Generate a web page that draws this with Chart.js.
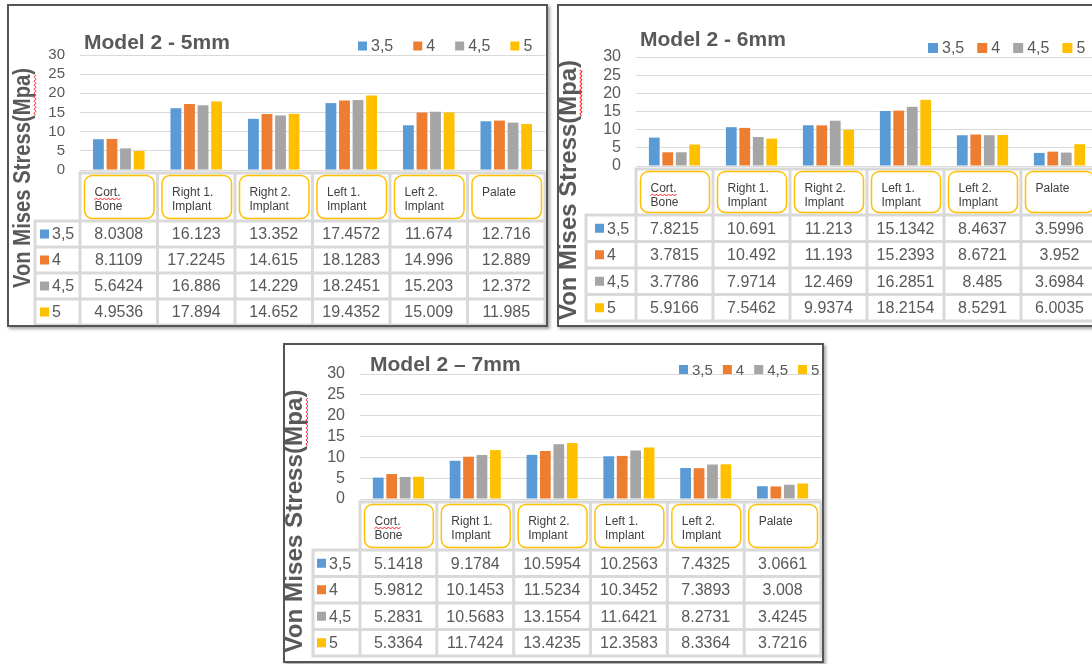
<!DOCTYPE html>
<html>
<head>
<meta charset="utf-8">
<title>Model 2 – Von Mises Stress</title>
<script src="https://cdn.jsdelivr.net/npm/chart.js@4.4.1/dist/chart.umd.min.js"></script>
<style>
  html, body { margin: 0; padding: 0; background: #fff; width: 1092px; height: 664px; overflow: hidden; position: relative; }
  .panel { position: absolute; background: #fff; }
  .panel canvas { position: absolute; left: 0; top: 0; }
  .frame { position: absolute; left: 0; top: 0; right: 0; bottom: 0; border: 2px solid #555; box-sizing: border-box;
           box-shadow: 2px 2px 3px rgba(0,0,0,0.35); pointer-events: none; }
</style>
</head>
<body>
<div class="panel" id="p5"><canvas id="c5"></canvas><div class="frame"></div></div>
<div class="panel" id="p6"><canvas id="c6"></canvas><div class="frame"></div></div>
<div class="panel" id="p7"><canvas id="c7"></canvas><div class="frame"></div></div>
<script>
// ---- data -------------------------------------------------------------
const categories = [['Cort.', 'Bone'], ['Right 1.', 'Implant'], ['Right 2.', 'Implant'],
                    ['Left 1.', 'Implant'], ['Left 2.', 'Implant'], ['Palate']];
const seriesNames = ['3,5', '4', '4,5', '5'];
const seriesColors = ['#5B9BD5', '#ED7D31', '#A5A5A5', '#FFC000'];
const yTicks = [0, 5, 10, 15, 20, 25, 30];
const yAxisTitle = 'Von Mises Stress(Mpa)';

// Model 2 - 5mm
const m5_d35 = [8.0308, 16.123, 13.352, 17.4572, 11.674, 12.716];
const m5_d4  = [8.1109, 17.2245, 14.615, 18.1283, 14.996, 12.889];
const m5_d45 = [5.6424, 16.886, 14.229, 18.2451, 15.203, 12.372];
const m5_d5  = [4.9536, 17.894, 14.652, 19.4352, 15.009, 11.985];

// Model 2 - 6mm
const m6_d35 = [7.8215, 10.691, 11.213, 15.1342, 8.4637, 3.5996];
const m6_d4  = [3.7815, 10.492, 11.193, 15.2393, 8.6721, 3.952];
const m6_d45 = [3.7786, 7.9714, 12.469, 16.2851, 8.485, 3.6984];
const m6_d5  = [5.9166, 7.5462, 9.9374, 18.2154, 8.5291, 6.0035];

// Model 2 – 7mm
const m7_d35 = [5.1418, 9.1784, 10.5954, 10.2563, 7.4325, 3.0661];
const m7_d4  = [5.9812, 10.1453, 11.5234, 10.3452, 7.3893, 3.008];
const m7_d45 = [5.2831, 10.5683, 13.1554, 11.6421, 8.2731, 3.4245];
const m7_d5  = [5.3364, 11.7424, 13.4235, 12.3583, 8.3364, 3.7216];

// ---- layout (page pixels) ---------------------------------------------
const FONT = "'Liberation Sans', Arial, sans-serif";
const TEXT = '#595959';
const GRID = '#D9D9D9';

const panels = [
  { id: 5, title: 'Model 2 - 5mm', series: [m5_d35, m5_d4, m5_d45, m5_d5],
    box: { x: 7, y: 4, w: 541, h: 323 },
    area: { left: 80, right: 545, top: 55, bottom: 170 },
    titlePos: { x: 84, y: 43, size: 21 },
    legend: { x: 358, y: 46, size: 16, box: 9, gap: 20 },
    yTitle: { x: 23, y: 178, len: 220, size: 24 },
    tickSize: 15,
    table: { headTop: 173, headBot: 221, rowH: 26, rowHeadLeft: 35, keyX: 40 } },
  { id: 6, title: 'Model 2 - 6mm', series: [m6_d35, m6_d4, m6_d45, m6_d5],
    box: { x: 557, y: 4, w: 560, h: 323 },
    area: { left: 636, right: 1098, top: 57, bottom: 166 },
    titlePos: { x: 640, y: 40, size: 21 },
    legend: { x: 928, y: 48, size: 16, box: 10, gap: 13 },
    yTitle: { x: 569, y: 190, len: 260, size: 24 },
    tickSize: 16,
    table: { headTop: 169, headBot: 215, rowH: 26.5, rowHeadLeft: 586, keyX: 595 } },
  { id: 7, title: 'Model 2 \u2013 7mm', series: [m7_d35, m7_d4, m7_d45, m7_d5],
    box: { x: 283, y: 343, w: 541, h: 320 },
    area: { left: 360, right: 821, top: 374, bottom: 499 },
    titlePos: { x: 370, y: 365, size: 21 },
    legend: { x: 679, y: 369.5, size: 15, box: 9, gap: 10 },
    yTitle: { x: 295, y: 521, len: 263, size: 24 },
    tickSize: 16,
    table: { headTop: 502, headBot: 550, rowH: 26.5, rowHeadLeft: 313, keyX: 317 } }
];

// ---- drawing helpers ----------------------------------------------------
function roundRect(ctx, x, y, w, h, r) {
  ctx.beginPath();
  ctx.moveTo(x + r, y);
  ctx.arcTo(x + w, y, x + w, y + h, r);
  ctx.arcTo(x + w, y + h, x, y + h, r);
  ctx.arcTo(x, y + h, x, y, r);
  ctx.arcTo(x, y, x + w, y, r);
  ctx.closePath();
}

function squiggle(ctx, x0, x1, y) {
  ctx.save();
  ctx.strokeStyle = '#FF2020';
  ctx.lineWidth = 1;
  ctx.beginPath();
  let up = true;
  ctx.moveTo(x0, y);
  for (let x = x0 + 2; x <= x1; x += 2) { ctx.lineTo(x, up ? y - 1.5 : y + 0.5); up = !up; }
  ctx.stroke();
  ctx.restore();
}

function drawTitle(ctx, P) {
  const t = P.titlePos;
  ctx.save();
  ctx.font = `bold ${t.size}px ${FONT}`;
  ctx.fillStyle = TEXT;
  ctx.textBaseline = 'middle';
  ctx.fillText(P.title, t.x - P.box.x, t.y - P.box.y);
  ctx.restore();
}

function drawLegend(ctx, P, datasets) {
  const L = P.legend;
  ctx.save();
  ctx.font = `${L.size}px ${FONT}`;
  ctx.textBaseline = 'middle';
  let x = L.x - P.box.x;
  const y = L.y - P.box.y;
  datasets.forEach(ds => {
    ctx.fillStyle = ds.backgroundColor;
    ctx.fillRect(x, y - L.box / 2, L.box, L.box);
    ctx.fillStyle = TEXT;
    ctx.fillText(ds.label, x + L.box + 4, y + 1);
    x += L.box + 4 + ctx.measureText(ds.label).width + L.gap;
  });
  ctx.restore();
}

function drawYTitle(ctx, P) {
  const T = P.yTitle;
  ctx.save();
  ctx.translate(T.x - P.box.x, T.y - P.box.y);
  ctx.rotate(-Math.PI / 2);
  ctx.font = `bold ${T.size}px ${FONT}`;
  const full = ctx.measureText(yAxisTitle).width;
  const k = T.len / full;
  ctx.scale(k, 1);
  ctx.fillStyle = TEXT;
  ctx.textBaseline = 'middle';
  ctx.textAlign = 'left';
  ctx.fillText(yAxisTitle, -full / 2, 0);
  // spell-check underline beneath "Mpa"
  const pre = ctx.measureText('Von Mises Stress(').width;
  const w = ctx.measureText('Mpa').width;
  ctx.scale(1 / k, 1);
  squiggle(ctx, (-full / 2 + pre) * k, (-full / 2 + pre + w) * k, T.size * 0.52);
  ctx.restore();
}

function drawTable(chart, P) {
  const ctx = chart.ctx;
  const xs = chart.scales.x;
  const ox = P.box.x, oy = P.box.y;
  const n = categories.length;
  const catW = xs.getPixelForValue(1) - xs.getPixelForValue(0);
  const cols = [];
  for (let i = 0; i < n; i++) cols.push(xs.getPixelForValue(i) - catW / 2);
  cols.push(xs.getPixelForValue(n - 1) + catW / 2);
  const T = P.table;
  const rows = [T.headTop - oy, T.headBot - oy];
  for (let k = 1; k <= seriesNames.length; k++) rows.push(rows[1] + k * T.rowH);
  const last = rows.length - 1;
  const rhL = T.rowHeadLeft - ox;
  const G = 3, h = G / 2;

  ctx.save();
  // grey grid behind the cells
  ctx.fillStyle = GRID;
  ctx.fillRect(cols[0] - h, rows[0] - h, cols[n] - cols[0] + G, rows[last] - rows[0] + G);
  ctx.fillRect(rhL - h, rows[1] - h, cols[0] - rhL + G, rows[last] - rows[1] + G);

  // white cells
  ctx.fillStyle = '#fff';
  for (let r = 0; r < last; r++) {
    for (let c = -1; c < n; c++) {
      if (r === 0 && c === -1) continue;
      const x0 = c < 0 ? rhL : cols[c];
      const x1 = c < 0 ? cols[0] : cols[c + 1];
      ctx.fillRect(x0 + h, rows[r] + h, x1 - x0 - G, rows[r + 1] - rows[r] - G);
    }
  }

  // category header boxes
  ctx.font = `12px ${FONT}`;
  ctx.textBaseline = 'middle';
  ctx.textAlign = 'left';
  categories.forEach((lines, c) => {
    const bx = cols[c] + h + 3, by = rows[0] + h + 1;
    const bw = cols[c + 1] - cols[c] - G - 5, bh = rows[1] - rows[0] - G - 2;
    roundRect(ctx, bx, by, bw, bh, 8);
    ctx.fillStyle = '#fff';
    ctx.fill();
    ctx.strokeStyle = '#FFC000';
    ctx.lineWidth = 1.5;
    ctx.stroke();
    ctx.fillStyle = '#404040';
    lines.forEach((line, j) => {
      const ty = by + 17 + j * 14;
      ctx.fillText(line, bx + 10, ty);
      if (line === 'Cort.') squiggle(ctx, bx + 10, bx + 10 + ctx.measureText(line).width, ty + 7);
    });
  });

  // row headers and values
  chart.data.datasets.forEach((ds, s) => {
    const cy = (rows[s + 1] + rows[s + 2]) / 2;
    ctx.fillStyle = ds.backgroundColor;
    ctx.fillRect(T.keyX - ox, cy - 4.5, 9, 9);
    ctx.font = `16px ${FONT}`;
    ctx.fillStyle = TEXT;
    ctx.textAlign = 'left';
    ctx.fillText(ds.label, T.keyX - ox + 12, cy + 1);
    ctx.textAlign = 'center';
    ds.data.forEach((v, c) => {
      ctx.fillText(String(v), (cols[c] + cols[c + 1]) / 2, cy + 1);
    });
  });
  ctx.restore();
}

const decorPlugin = {
  id: 'panelDecor',
  afterDraw(chart) {
    const P = chart.config.options.plugins.panelDecor.panel;
    drawTable(chart, P);
    drawTitle(chart.ctx, P);
    drawLegend(chart.ctx, P, chart.data.datasets);
    drawYTitle(chart.ctx, P);
  }
};

// ---- build the three charts ---------------------------------------------
panels.forEach(P => {
  const wrap = document.getElementById('p' + P.id);
  wrap.style.left = P.box.x + 'px';
  wrap.style.top = P.box.y + 'px';
  wrap.style.width = P.box.w + 'px';
  wrap.style.height = P.box.h + 'px';
  const cv = document.getElementById('c' + P.id);
  cv.width = P.box.w; cv.height = P.box.h;
  cv.style.width = P.box.w + 'px'; cv.style.height = P.box.h + 'px';

  new Chart(cv, {
    type: 'bar',
    data: {
      labels: categories.map(l => l.join(' ')),
      datasets: P.series.map((vals, s) => ({
        label: seriesNames[s],
        data: vals,
        backgroundColor: seriesColors[s],
        borderWidth: 0,
        categoryPercentage: 0.7,
        barPercentage: 0.8
      }))
    },
    options: {
      responsive: false,
      animation: false,
      devicePixelRatio: 1,
      layout: {
        padding: {
          left: 0,
          top: P.area.top - P.box.y,
          right: P.box.x + P.box.w - P.area.right,
          bottom: P.box.y + P.box.h - P.area.bottom
        }
      },
      plugins: {
        legend: { display: false },
        title: { display: false },
        tooltip: { enabled: false },
        panelDecor: { panel: P }
      },
      scales: {
        x: { display: false },
        y: {
          min: yTicks[0],
          max: yTicks[yTicks.length - 1],
          afterBuildTicks: s => { s.ticks = yTicks.map(v => ({ value: v })); },
          afterFit: s => { s.width = P.area.left - P.box.x; },
          ticks: { color: TEXT, font: { family: FONT, size: P.tickSize }, padding: 15, autoSkip: false },
          grid: { color: GRID, drawTicks: false, lineWidth: 1 },
          border: { display: false }
        }
      }
    },
    plugins: [decorPlugin]
  });
});
</script>
</body>
</html>
